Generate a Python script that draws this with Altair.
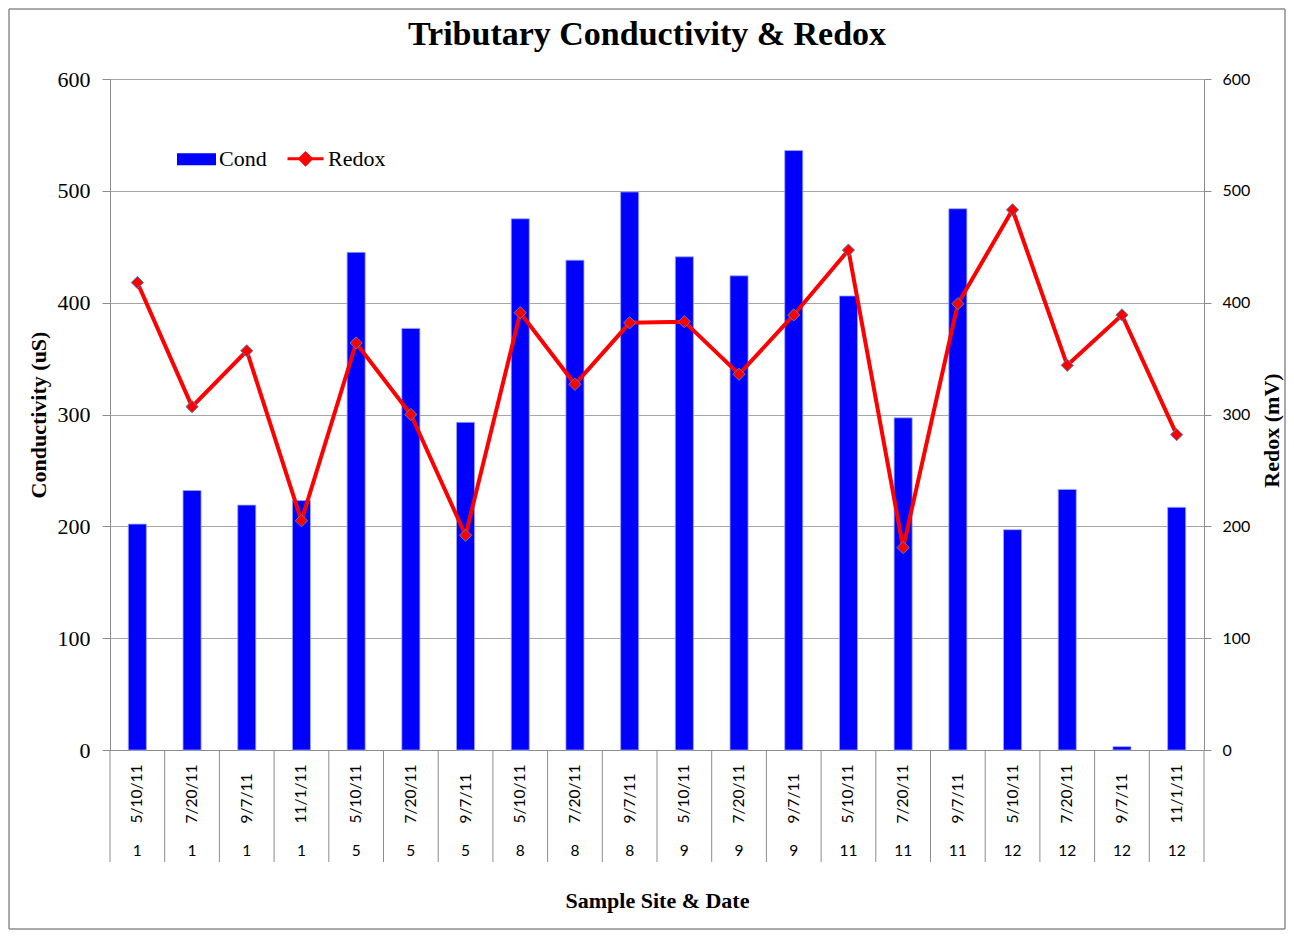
import altair as alt
import pandas as pd

sites = ["1", "1", "1", "1", "5", "5", "5", "8", "8", "8", "9", "9", "9", "11", "11", "11", "12", "12", "12", "12"]
dates = ["5/10/11", "7/20/11", "9/7/11", "11/1/11", "5/10/11", "7/20/11", "9/7/11", "5/10/11", "7/20/11", "9/7/11",
         "5/10/11", "7/20/11", "9/7/11", "5/10/11", "7/20/11", "9/7/11", "5/10/11", "7/20/11", "9/7/11", "11/1/11"]
cond = [202, 232, 219, 223, 445, 377, 293, 475, 438, 499, 441, 424, 536, 406, 297, 484, 197, 233, 3, 217]
redox = [418, 307, 357, 205, 364, 300, 192, 391, 327, 382, 383, 336, 389, 447, 181, 399, 483, 344, 389, 282]
series_names = ["Cond", "Redox"]
y_ticks = [0, 100, 200, 300, 400, 500, 600]
chart_title = "Tributary Conductivity & Redox"

keys = [f"{i:02d}|{s}|{d}" for i, (s, d) in enumerate(zip(sites, dates))]
df = pd.DataFrame({"key": keys, "site": sites, "date": dates, "cond": cond, "redox": redox})
df_last = df.iloc[[-1]]
legend_df = pd.DataFrame({"series": series_names})
title_df = pd.DataFrame({"t": [chart_title]})

W, H = 1094, 671
SERIF = "Liberation Serif"
SANS = "Lato"
GRID = "#A6A6A6"
AX = "#8C8C8C"

x_axis = alt.Axis(
    title="Sample Site & Date", titleFont=SERIF, titleFontSize=22, titleFontWeight="bold",
    titleColor="black", titleX=W / 2, titleY=150, titleAlign="center", titleBaseline="middle",
    labelExpr="split(datum.label, '|')[2]", labelAngle=270, labelAlign="left",
    labelBaseline="middle", labelPadding=73, labelFont=SANS, labelFontSize=15.5,
    labelColor="black", ticks=False, tickSize=0, domainColor=AX, grid=False,
)
x_scale = alt.Scale(domain=keys, paddingInner=0, paddingOuter=0)

def xenc(**kw):
    return alt.X("key:N", sort=keys, scale=x_scale, axis=x_axis, **kw)

bars = alt.Chart(df).mark_bar(
    color="#0000FF", stroke="#9DA8F0", strokeWidth=0.8, width={"band": 0.33}
).encode(
    x=xenc(),
    y=alt.Y("cond:Q", scale=alt.Scale(domain=[0, 600], nice=False),
            axis=alt.Axis(values=y_ticks, tickSize=8, tickColor=AX, labelPadding=12,
                          labelFont=SERIF, labelFontSize=22, labelColor="black",
                          domainColor=AX, gridColor=GRID, grid=True,
                          title="Conductivity (uS)", titleFont=SERIF, titleFontSize=22,
                          titleFontWeight="bold", titleColor="black", titleAngle=270,
                          titleX=-72, titleY=H / 2, titleAlign="center", titleBaseline="middle")),
)

seps = alt.Chart(df).mark_rule(color=AX, strokeWidth=1).encode(
    x=xenc(bandPosition=0), y=alt.value(H), y2=alt.value(H + 112)
)
seps_end = alt.Chart(df_last).mark_rule(color=AX, strokeWidth=1).encode(
    x=xenc(bandPosition=1), y=alt.value(H), y2=alt.value(H + 112)
)

site_text = alt.Chart(df).mark_text(font=SANS, fontSize=15.5, color="black", baseline="middle").encode(
    x=xenc(), y=alt.value(H + 101), text="site:N"
)

line = alt.Chart(df).mark_line(
    color="#FF0000", strokeWidth=4,
    point=alt.OverlayMarkDef(shape="diamond", filled=True, fill="#FF0000", stroke="#4F81BD",
                             strokeWidth=1, size=150, opacity=1),
).encode(
    x=xenc(),
    y=alt.Y("redox:Q", scale=alt.Scale(domain=[0, 600], nice=False),
            axis=alt.Axis(orient="right", values=y_ticks, tickSize=7, tickColor=AX, labelPadding=11,
                          labelFont=SANS, labelFontSize=16, labelColor="black", domainColor=AX,
                          grid=False, title="Redox (mV)", titleFont=SERIF, titleFontSize=22,
                          titleFontWeight="bold", titleColor="black", titleAngle=270,
                          titleX=67, titleY=351, titleAlign="center", titleBaseline="middle")),
)

leg_scale_color = alt.Scale(domain=series_names, range=["#0000FF", "#FF0000"])
leg_scale_shape = alt.Scale(domain=series_names,
                            range=["M-1,-0.25H1V0.25H-1Z",
                                   "M-1,0H1M-0.32,0L0,-0.32L0.32,0L0,0.32Z"])
legend = alt.Legend(orient="none", legendX=67, legendY=60, direction="horizontal", title=None,
                    labelFont=SERIF, labelFontSize=22, labelColor="black", symbolSize=1296,
                    symbolStrokeWidth=3, symbolOpacity=1, columnPadding=14, labelOffset=3)
legend_layer = alt.Chart(legend_df).mark_point(filled=True, opacity=0).encode(
    x=alt.value(0), y=alt.value(0),
    color=alt.Color("series:N", scale=leg_scale_color, legend=legend),
    stroke=alt.Stroke("series:N", scale=leg_scale_color, legend=legend),
    shape=alt.Shape("series:N", scale=leg_scale_shape, legend=legend),
)

title_layer = alt.Chart(title_df).mark_text(
    font=SERIF, fontSize=34, fontWeight="bold", color="black", align="center", baseline="middle"
).encode(x=alt.value(537), y=alt.value(-44), text="t:N")

border = alt.Chart(legend_df).mark_rect(filled=False, stroke="#8C8C8C", strokeWidth=1).encode(
    x=alt.value(-101), x2=alt.value(1175), y=alt.value(-70), y2=alt.value(850)
)

chart = alt.layer(border, title_layer, bars, seps, seps_end, site_text, line, legend_layer).resolve_scale(
    y="independent"
).properties(
    width=W, height=H,
    padding={"left": 102, "top": 71, "right": 82, "bottom": 180},
    autosize="none",
).configure_view(stroke=None)

chart.save("out.html", embed_options={"renderer": "svg", "actions": False})
